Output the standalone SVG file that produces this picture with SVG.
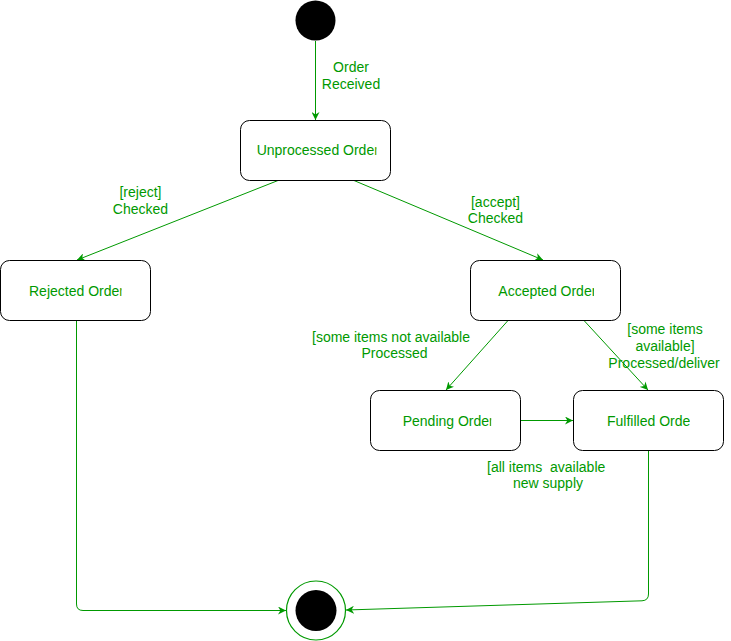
<svg xmlns="http://www.w3.org/2000/svg" width="731" height="641" viewBox="0 0 731 641">
<style>
.box{fill:#ffffff;stroke:#000000;stroke-width:1}
.edge{fill:none;stroke:#009900;stroke-width:1}
.t{font-family:"Liberation Sans",Arial,sans-serif;font-size:14px;fill:#009900}
.m{text-anchor:middle}
.pre{white-space:pre}
</style>
<defs>
<marker id="arr" markerUnits="userSpaceOnUse" viewBox="0 0 10 10" markerWidth="8" markerHeight="8" refX="10" refY="5" orient="auto">
<path d="M0,0 L10,5 L0,10 L3,5 Z" fill="#009900"/>
</marker>
<clipPath id="cU"><rect x="240" y="120" width="136.5" height="60"/></clipPath>
<clipPath id="cR"><rect x="0" y="260" width="121.6" height="60"/></clipPath>
<clipPath id="cA"><rect x="470" y="260" width="123.9" height="60"/></clipPath>
<clipPath id="cP"><rect x="370" y="390" width="121.3" height="60"/></clipPath>
<clipPath id="cF"><rect x="573" y="390" width="117" height="60"/></clipPath>
</defs>

<g id="connectors">
<path class="edge" d="M315.5,41 L315.5,120" marker-end="url(#arr)"/>
<path class="edge" d="M278,180.5 L77,260" marker-end="url(#arr)"/>
<path class="edge" d="M354,180.5 L543,260" marker-end="url(#arr)"/>
<path class="edge" d="M508,320.5 L446,390" marker-end="url(#arr)"/>
<path class="edge" d="M584,320.5 L648,390" marker-end="url(#arr)"/>
<path class="edge" d="M520.5,420.5 L573,420.5" marker-end="url(#arr)"/>
<path class="edge" d="M76.5,320.5 L76.5,604 Q76.5,610.5 83,610.5 L286,610.5" marker-end="url(#arr)"/>
<path class="edge" d="M648.5,450.5 L648.5,594 Q648.5,600.5 642,600.8 L346,610" marker-end="url(#arr)"/>
<text class="t m" x="351" y="72">Order</text>
<text class="t m" x="351" y="89">Received</text>
<text class="t m" x="140.5" y="197">[reject]</text>
<text class="t m" x="140.5" y="214">Checked</text>
<text class="t m" x="495.5" y="207">[accept]</text>
<text class="t m" x="495.5" y="223">Checked</text>
<text class="t" x="312" y="341.5">[some items not available</text>
<text class="t m" x="394.5" y="358">Processed</text>
<text class="t m" x="665" y="334">[some items</text>
<text class="t m" x="665" y="351">available]</text>
<text class="t m" x="664" y="367.5">Processed/deliver</text>
<text class="t pre" x="487" y="471.5">[all items  available</text>
<text class="t m" x="548" y="488">new supply</text>
</g>

<g id="initial">
<circle cx="315.5" cy="20.5" r="20" fill="#000000"/>
</g>

<g id="unprocessed">
<rect class="box" x="240.5" y="120.5" width="150" height="60" rx="9" ry="9"/>
<text class="t" x="256.7" y="155" clip-path="url(#cU)">Unprocessed Order</text>
</g>

<g id="rejected">
<rect class="box" x="0.5" y="260.5" width="150" height="60" rx="9" ry="9"/>
<text class="t" x="29" y="295.5" clip-path="url(#cR)">Rejected Order</text>
</g>

<g id="accepted">
<rect class="box" x="470.5" y="260.5" width="150" height="60" rx="9" ry="9"/>
<text class="t" x="498.3" y="296" clip-path="url(#cA)">Accepted Order</text>
</g>

<g id="pending">
<rect class="box" x="370.5" y="390.5" width="150" height="60" rx="9" ry="9"/>
<text class="t" x="402.7" y="425.5" clip-path="url(#cP)">Pending Order</text>
</g>

<g id="fulfilled">
<rect class="box" x="573.5" y="390.5" width="150" height="60" rx="9" ry="9"/>
<text class="t" x="607" y="425.5" clip-path="url(#cF)">Fulfilled Order</text>
</g>

<g id="final">
<circle cx="316" cy="610.5" r="29.5" fill="#ffffff" stroke="#009900" stroke-width="1.2"/>
<circle cx="316" cy="610.5" r="20.5" fill="#000000"/>
</g>
</svg>
